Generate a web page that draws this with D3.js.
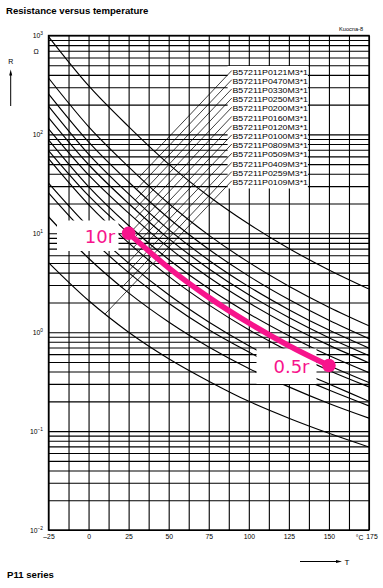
<!DOCTYPE html>
<html><head><meta charset="utf-8">
<script src="https://cdn.jsdelivr.net/npm/d3@7"></script>
<style>body{margin:0;background:#fff}svg{display:block}</style>
</head><body>
<script>
// ---------- data ----------
const temperatures = [-25, 0, 25, 50, 75, 100, 125, 150, 175];
const partNumbers = ["B57211P0121M3*1","B57211P0470M3*1","B57211P0330M3*1","B57211P0250M3*1","B57211P0200M3*1","B57211P0160M3*1","B57211P0120M3*1","B57211P0100M3*1","B57211P0809M3*1","B57211P0509M3*1","B57211P0409M3*1","B57211P0259M3*1","B57211P0109M3*1"];
const rP0121 = [975, 311, 120, 50.1, 23.7, 12.4, 7.02, 4.26, 2.73];
const rP0470 = [372, 120, 47, 20.0, 9.59, 5.08, 2.92, 1.79, 1.16];
const rP0330 = [257, 83.9, 33, 14.2, 6.90, 3.69, 2.14, 1.32, 0.86];
const rP0250 = [193, 63.2, 25, 10.9, 5.35, 2.89, 1.69, 1.05, 0.69];
const rP0200 = [148, 49.6, 20, 8.83, 4.39, 2.39, 1.41, 0.88, 0.58];
const rP0160 = [114, 39.0, 16, 7.16, 3.59, 1.98, 1.17, 0.74, 0.49];
const rP0120 = [88.1, 29.7, 12, 5.44, 2.76, 1.54, 0.92, 0.58, 0.39];
const rP0100 = [68.6, 24.0, 10, 4.47, 2.25, 1.24, 0.73, 0.46, 0.31];
const rP0809 = [56.8, 19.5, 8, 3.67, 1.89, 1.06, 0.64, 0.41, 0.28];
const rP0509 = [32.1, 11.6, 5, 2.39, 1.27, 0.73, 0.45, 0.30, 0.20];
const rP0409 = [25.6, 9.30, 4, 1.96, 1.06, 0.63, 0.39, 0.26, 0.18];
const rP0259 = [14.7, 5.59, 2.5, 1.27, 0.71, 0.43, 0.28, 0.19, 0.135];
const rP0109 = [5.06, 2.09, 1, 0.54, 0.32, 0.20, 0.135, 0.095, 0.069];
const seriesValues = [rP0121, rP0470, rP0330, rP0250, rP0200, rP0160, rP0120, rP0100, rP0809, rP0509, rP0409, rP0259, rP0109];

const highlightTemps = [25, 50, 75, 100, 125, 150];
const highlightR = [10, 4.47, 2.25, 1.24, 0.73, 0.46];
const highlightLabels = ["10r", "0.5r"];

const xTickLabels = [-25, 0, 25, 50, 75, 100, 125, 150, 175];
const yTickExponents = [3, 2, 1, 0, -1, -2];

// ---------- layout ----------
const W = 383, H = 588;
const plot = {l: 48.5, r: 369, t: 35.5, b: 530};
const pink = "#f7148c";
const svg = d3.select("body").append("svg").attr("width", W).attr("height", H)
  .style("font-family", "'Liberation Sans', Arial, sans-serif");

const x = d3.scaleLinear().domain([-25, 175]).range([plot.l, plot.r]);
const y = d3.scaleLog().domain([0.01, 1000]).range([plot.b, plot.t]);

svg.append("defs").append("clipPath").attr("id", "clip")
  .append("rect").attr("x", plot.l).attr("y", plot.t)
  .attr("width", plot.r - plot.l).attr("height", plot.b - plot.t);

// grid
const gridT = d3.range(-25, 175.01, 12.5);
const gridR = [];
[-2, -1, 0, 1, 2].forEach(k => { for (let m = 1; m <= 9; m++) gridR.push(m * Math.pow(10, k)); });
gridR.push(1000);

const gx = svg.append("g").attr("transform", `translate(0,${plot.b})`)
  .call(d3.axisBottom(x).tickValues(gridT).tickSize(-(plot.b - plot.t)).tickFormat(""));
const gy = svg.append("g").attr("transform", `translate(${plot.l},0)`)
  .call(d3.axisLeft(y).tickValues(gridR).tickSize(-(plot.r - plot.l)).tickFormat(""));
[gx, gy].forEach(g => {
  g.select(".domain").remove();
  g.selectAll("line").attr("stroke", "#000").attr("stroke-width", 1.1);
});
svg.append("rect").attr("x", plot.l).attr("y", plot.t)
  .attr("width", plot.r - plot.l).attr("height", plot.b - plot.t)
  .attr("fill", "none").attr("stroke", "#000").attr("stroke-width", 1.4);

// curves
const line = d3.line().x(d => x(d.t)).y(d => y(d.r)).curve(d3.curveMonotoneX);
const curveG = svg.append("g").attr("clip-path", "url(#clip)");
const curvePaths = seriesValues.map(vals =>
  curveG.append("path")
    .attr("d", line(temperatures.map((t, i) => ({t, r: vals[i]}))))
    .attr("fill", "none").attr("stroke", "#000").attr("stroke-width", 1.15)
);

// label box
const lab = d3.scalePoint().domain(partNumbers).range([72, 182.3]);
svg.append("rect").attr("x", 227.6).attr("y", 66).attr("width", 80.3).attr("height", 122.5).attr("fill", "#fff");

// leaders
const slope = 1.05;
partNumbers.forEach((p, i) => {
  const x0 = 231.8, y0 = lab(p) - 1.5;
  const node = curvePaths[i].node();
  const L = node.getTotalLength();
  let best = null;
  let prev = null;
  for (let s = 0; s <= L; s += 0.5) {
    const pt = node.getPointAtLength(s);
    if (pt.x > x0) break;
    const f = pt.y - (y0 + slope * (x0 - pt.x));
    if (prev && prev.f < 0 && f >= 0) { best = pt; break; }
    prev = {f, pt};
  }
  if (best) {
    svg.append("line").attr("x1", x0).attr("y1", y0).attr("x2", best.x).attr("y2", best.y)
      .attr("stroke", "#000").attr("stroke-width", 0.75);
  }
  svg.append("text").attr("x", 232.5).attr("y", lab(p) + 2.6)
    .attr("font-size", 7.2).attr("textLength", 75.5).attr("lengthAdjust", "spacingAndGlyphs")
    .attr("fill", "#000").text(p);
});

// y tick labels
yTickExponents.forEach(e => {
  const t = svg.append("text").attr("x", 43).attr("y", y(Math.pow(10, e)) + 2.5)
    .attr("text-anchor", "end").attr("font-size", 6.8).attr("fill", "#000");
  t.append("tspan").text("10");
  t.append("tspan").attr("dy", -3).attr("font-size", 4.8).text(e < 0 ? "\u2212" + (-e) : e);
});
svg.append("text").attr("x", 36).attr("y", 54).attr("text-anchor", "middle")
  .attr("font-size", 7).text("\u03a9");

// x tick labels
const xa = svg.append("g").attr("transform", `translate(0,${plot.b})`)
  .call(d3.axisBottom(x).tickValues(xTickLabels).tickSize(0).tickPadding(4)
    .tickFormat(d => d < 0 ? "\u2013" + (-d) : d));
xa.select(".domain").remove();
xa.selectAll("text").attr("font-size", 6.8).attr("fill", "#000")
  .attr("font-family", "'Liberation Sans', Arial, sans-serif")
  .attr("dx", d => d === 175 ? 2.5 : 0);
svg.append("text").attr("x", 363.5).attr("y", 540).attr("text-anchor", "end")
  .attr("font-size", 6.8).text("\u00b0C");

// axis names & arrows
svg.append("text").attr("x", 10.7).attr("y", 64).attr("text-anchor", "middle").attr("font-size", 7).text("R");
svg.append("line").attr("x1", 10.7).attr("x2", 10.7).attr("y1", 106).attr("y2", 73).attr("stroke", "#000").attr("stroke-width", 1);
svg.append("path").attr("d", "M10.7,69.5 L9.2,75.5 L12.2,75.5 Z").attr("fill", "#000");
svg.append("line").attr("x1", 300).attr("x2", 337).attr("y1", 561.5).attr("y2", 561.5).attr("stroke", "#000").attr("stroke-width", 1);
svg.append("path").attr("d", "M342,561.5 L336,560 L336,563 Z").attr("fill", "#000");
svg.append("text").attr("x", 344.5).attr("y", 565).attr("font-size", 8).text("T");

// titles
svg.append("text").attr("x", 6).attr("y", 14).attr("font-size", 9.6).attr("font-weight", "bold").text("Resistance versus temperature");
svg.append("text").attr("x", 7).attr("y", 577.5).attr("font-size", 9.6).attr("font-weight", "bold").text("P11 series");
svg.append("text").attr("x", 363).attr("y", 31).attr("text-anchor", "end").attr("font-size", 5.6).text("Kuocna-8");

// highlight boxes
svg.append("rect").attr("x", 57).attr("y", 220.5).attr("width", 61.5).attr("height", 30.5).attr("fill", "#fff");
svg.append("rect").attr("x", 256.5).attr("y", 348.5).attr("width", 60).attr("height", 35.5).attr("fill", "#fff");

// highlight curve
const hl = highlightTemps.map((t, i) => ({t, r: highlightR[i]}));
svg.append("path").attr("d", line(hl)).attr("fill", "none").attr("stroke", pink)
  .attr("stroke-width", 5.5).attr("stroke-linecap", "round");
const ends = [hl[0], hl[hl.length - 1]];
svg.selectAll("circle.hl").data(ends).enter().append("circle")
  .attr("cx", d => x(d.t)).attr("cy", d => y(d.r)).attr("r", 6.8).attr("fill", pink);
svg.append("text").attr("x", 100).attr("y", 243).attr("text-anchor", "middle")
  .attr("font-family", "'DejaVu Sans', sans-serif").attr("font-size", 18).attr("fill", pink).text(highlightLabels[0]);
svg.append("text").attr("x", 291.5).attr("y", 373).attr("text-anchor", "middle")
  .attr("font-family", "'DejaVu Sans', sans-serif").attr("font-size", 18).attr("fill", pink).text(highlightLabels[1]);
</script>
</body></html>
